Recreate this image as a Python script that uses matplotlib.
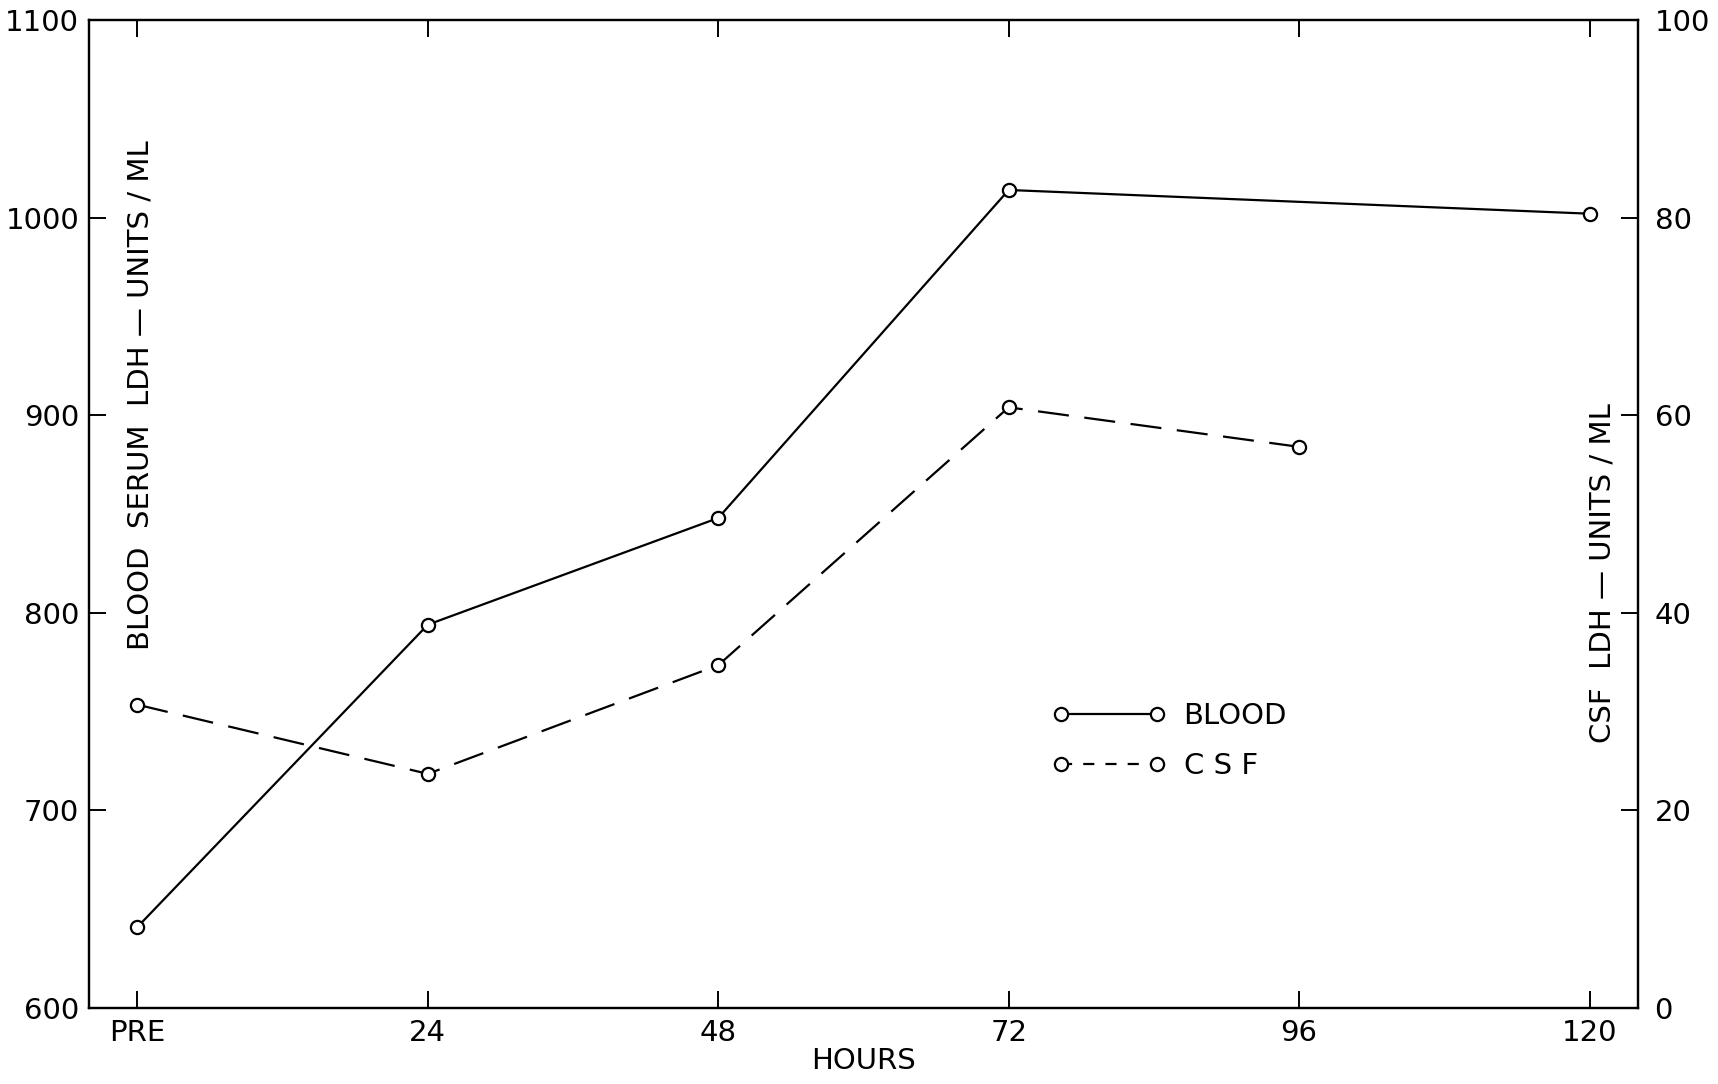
import numpy as np
import matplotlib
matplotlib.use("Agg")
import matplotlib.pyplot as plt
from matplotlib.lines import Line2D

# data
hours = [0, 24, 48, 72, 96, 120]
hour_labels = ["PRE", "24", "48", "72", "96", "120"]

blood_hours = [0, 24, 48, 72, 120]
blood_ldh = [641, 794, 848, 1014, 1002]      # left axis

csf_hours = [0, 24, 48, 72, 96]
csf_ldh = [30.7, 23.7, 34.7, 60.8, 56.8]     # right axis

plt.rcParams['font.family'] = ['DejaVu Sans']
fs = 21

fig = plt.figure(figsize=(17.18, 10.84), dpi=100)
ax = fig.add_axes([0.0518, 0.0701, 0.9016, 0.9114])
ax2 = ax.twinx()

ax.plot(blood_hours, blood_ldh, color='black', lw=1.6, marker='o', ms=9.5,
        mfc='white', mec='black', mew=1.6, zorder=3)
ax2.plot(csf_hours, csf_ldh, color='black', lw=1.6, dashes=(14, 7), marker='o',
         ms=9.5, mfc='white', mec='black', mew=1.6, zorder=3)

ax.set_xlim(-4, 124)
ax.set_ylim(600, 1100)
ax2.set_ylim(0, 100)

ax.set_xticks(hours)
ax.set_xticklabels(hour_labels)
ax.set_yticks(np.arange(600, 1101, 100))
ax2.set_yticks(np.arange(0, 101, 20))

ax.tick_params(axis='x', direction='in', length=12, width=1.4, top=True,
               labelsize=fs, pad=8)
ax.tick_params(axis='y', direction='in', length=12, width=1.4, labelsize=fs, pad=7)
ax2.tick_params(axis='y', direction='in', length=12, width=1.4, labelsize=fs, pad=12)

for a in (ax, ax2):
    for s in a.spines.values():
        s.set_linewidth(1.6)

ax.set_xlabel("HOURS", fontsize=fs, labelpad=0)

ax.text(0.033, 0.62, "BLOOD  SERUM  LDH \u2014 UNITS / ML", transform=ax.transAxes,
        rotation=90, fontsize=fs, ha='center', va='center')
ax.text(0.977, 0.44, "CSF  LDH \u2014 UNITS / ML", transform=ax.transAxes,
        rotation=90, fontsize=fs, ha='center', va='center')

handles = [
    Line2D([], [], color='black', lw=1.6, marker='o', ms=9.5, mfc='white', mew=1.6),
    Line2D([], [], color='black', lw=1.6, dashes=(5, 5), marker='o', ms=9.5,
           mfc='white', mew=1.6),
]
ax.legend(handles, ["BLOOD", "C S F"], loc='upper left',
          bbox_to_anchor=(0.605, 0.336), frameon=False, fontsize=fs,
          numpoints=2, handlelength=3.9, handletextpad=0.6, labelspacing=0.75)

fig.savefig("out.png", dpi=100)
